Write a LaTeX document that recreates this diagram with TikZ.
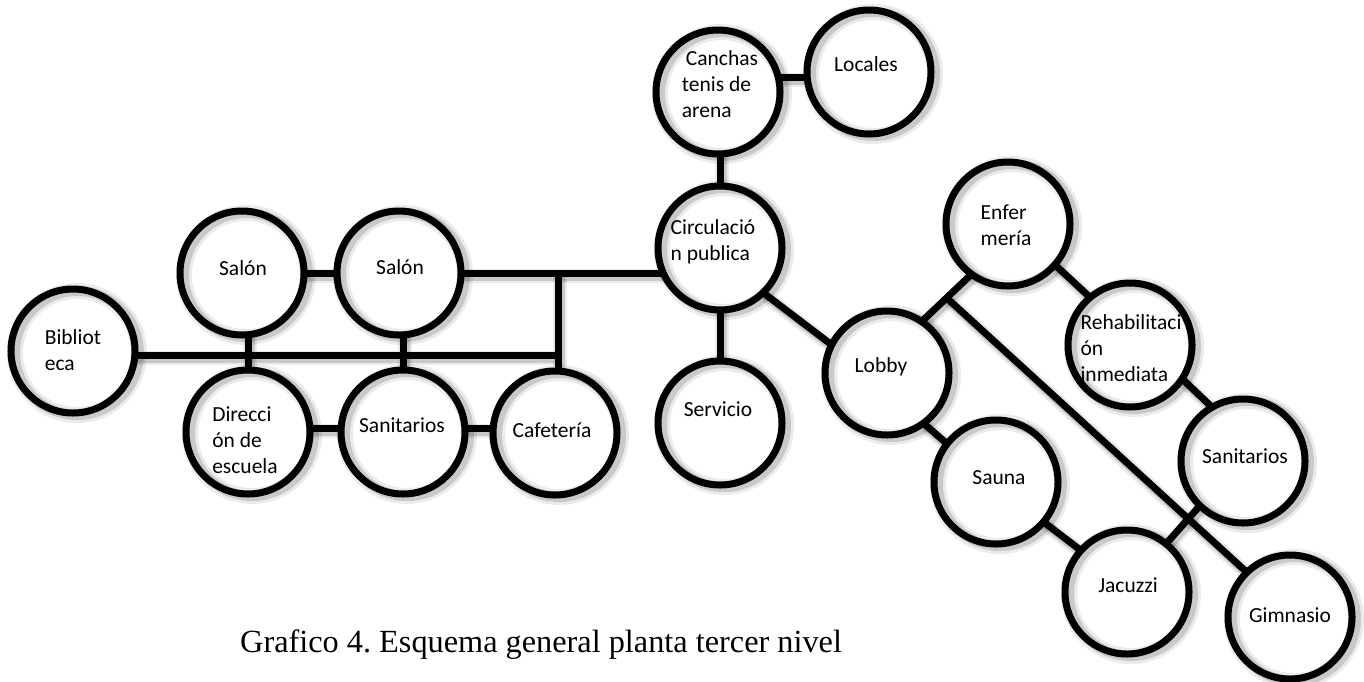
\documentclass[tikz,border=0pt]{standalone}
\usepackage{fontspec}
\setmainfont{Liberation Serif}
\newfontfamily\lblfont{Carlito}
\usetikzlibrary{calc}
\pgfdeclarelayer{bg}
\pgfsetlayers{bg,main}
\frenchspacing
\begin{document}
\begin{tikzpicture}[x=1pt,y=-1pt,
  room/.style={circle, fill=white, minimum size=124pt, inner sep=0pt,
    postaction={draw=black, opacity=0.08, line width=16pt, transform canvas={shift={(4pt,-2pt)}}},
    postaction={draw=black, opacity=0.14, line width=10pt, transform canvas={shift={(4pt,-2pt)}}},
    postaction={draw=black, line width=7pt}},
  lbl/.style={font=\lblfont\fontsize{21.5}{26}\selectfont, align=left, inner sep=0pt},
  conn/.style={line width=7pt,
    preaction={draw=black, opacity=0.08, line width=14pt, transform canvas={shift={(2pt,-3pt)}}},
    preaction={draw=black, opacity=0.14, line width=9pt, transform canvas={shift={(2pt,-3pt)}}}},
  caption/.style={font=\fontsize{32.3}{38}\selectfont, inner sep=0pt}
]
\useasboundingbox (0,0) rectangle (1364,681);

% rooms
\node[room] (bib)  at (73,351)   {};
\node[room] (sal1) at (242,273)  {};
\node[room] (sal2) at (399,273)  {};
\node[room] (dir)  at (248,432)  {};
\node[room] (sanL) at (403,432)  {};
\node[room] (caf)  at (555,433)  {};
\node[room] (can)  at (718,92)   {};
\node[room] (loc)  at (869,72)   {};
\node[room] (cir)  at (720,248)  {};
\node[room] (ser)  at (720,423)  {};
\node[room] (lob)  at (887,373)  {};
\node[room] (enf)  at (1008,224) {};
\node[room] (reh)  at (1130,345) {};
\node[room] (sanR) at (1243,461) {};
\node[room] (sau)  at (996,482)  {};
\node[room] (jac)  at (1127,592) {};
\node[room] (gim)  at (1290,617) {};

% labels
\node[lbl] (tbib)  at (73,350)   {Bibliot\\eca};
\node[lbl] (tsal1) at (243,268)  {Salón};
\node[lbl] (tsal2) at (400,267)  {Salón};
\node[lbl] (tdir)  at (245,440)  {Direcci\\ón de\\escuela};
\node[lbl] (tsanL) at (402,425)  {Sanitarios};
\node[lbl] (tcaf)  at (552,430)  {Cafetería};
\node[lbl] (tcan)  at (720,84)   {\hspace*{4pt}Canchas\\tenis de\\arena};
\node[lbl] (tloc)  at (866,64)   {Locales};
\node[lbl] (tcir)  at (713,242)  {Circulació\\n publica};
\node[lbl] (tser)  at (718,409)  {Servicio};
\node[lbl] (tlob)  at (881,367)  {Lobby};
\node[lbl] (tenf)  at (1006,225) {Enfer\\mería};
\node[lbl] (treh)  at (1131,348) {Rehabilitaci\\ón\\inmediata};
\node[lbl] (tsanR) at (1245,456) {Sanitarios};
\node[lbl] (tsau)  at (999,478)  {Sauna};
\node[lbl] (tjac)  at (1128,585) {Jacuzzi};
\node[lbl] (tgim)  at (1290,615) {Gimnasio};

\node[caption, anchor=base west] (cap) at (240,652) {Grafico 4. Esquema general planta tercer nivel};

% connectors
\begin{pgfonlayer}{bg}
\fill[white] (0,0) rectangle (1364,681);
\coordinate (j1) at (558,273);
\draw[conn] (sal1.center) -- (sal2.center);
\draw[conn] (sal2.center) -- (sal2.center -| cir.center);
\draw[conn] (j1) -- (j1 |- caf.center);
\draw[conn] ([yshift=-4pt]bib.center) -- ([yshift=-4pt]bib.center -| j1);
\draw[conn] (dir.center) -- (dir.center |- sal1.center);
\draw[conn] (sanL.center) -- (sanL.center |- sal2.center);
\draw[conn] ([yshift=4pt]dir.center) -- ([yshift=4pt]dir.center -| caf.center);
\draw[conn] ([yshift=-5pt]loc.center) -- ([yshift=-5pt]loc.center -| can.center);
\draw[conn] (cir.center) -- (cir.center |- can.center);
\draw[conn] (cir.center) -- (cir.center |- ser.center);
\draw[conn] (cir.-46) -- (lob.153);
\draw[conn] (lob.56) -- (enf.-126);
\coordinate (br) at ($(lob.56)!0.5!(enf.-126)$);
\draw[conn] (br) -- (gim.134);
\draw[conn] (enf.-41) -- (reh.130);
\draw[conn] (reh.-33) -- (sanR.120);
\draw[conn] (lob.-54) -- (sau.142);
\draw[conn] (sau.-40) -- (jac.138);
\draw[conn] (sanR.-134) -- (jac.51);
\end{pgfonlayer}
\end{tikzpicture}
\end{document}
